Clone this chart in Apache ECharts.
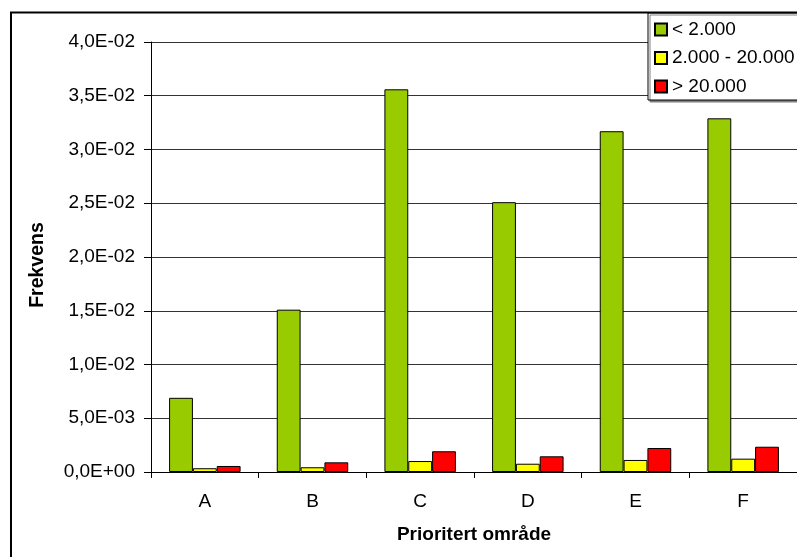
<!DOCTYPE html>
<html>
<head>
<meta charset="utf-8">
<script src="https://cdn.jsdelivr.net/npm/echarts@6/dist/echarts.min.js"></script>
<style>
  html, body { margin: 0; padding: 0; background: #fff; }
  #chart { width: 797px; height: 557px; }
</style>
</head>
<body>
<div id="chart"></div>
<script>
// Frequency per priority area, split by size class
const categories = ['A', 'B', 'C', 'D', 'E', 'F'];
const seriesNames = ['< 2.000', '2.000 - 20.000', '> 20.000'];
const small = [0.0069, 0.0151, 0.0356, 0.0251, 0.0317, 0.0329];
const medium = [0.00035, 0.00044, 0.00102, 0.00077, 0.00112, 0.00124];
const large = [0.00056, 0.0009, 0.00193, 0.00146, 0.00223, 0.00235];
const yTicks = { min: 0, max: 0.04, step: 0.005 };

const FONT = 'Liberation Sans, Arial, sans-serif';

// "4,0E-02" style scientific labels
function sci(v) {
  const s = Number(v).toExponential(1);
  const [mant, exp] = s.split('e');
  const e = parseInt(exp, 10);
  const sign = e < 0 ? '-' : '+';
  const digits = String(Math.abs(e)).padStart(2, '0');
  return mant.replace('.', ',') + 'E' + sign + digits;
}

const chart = echarts.init(document.getElementById('chart'), null, { renderer: 'canvas' });

const barBorder = { borderColor: '#000', borderWidth: 1 };

chart.setOption({
  animation: false,
  backgroundColor: '#fff',
  textStyle: { fontFamily: FONT, color: '#000' },
  grid: { left: 151, right: -4, top: 42, bottom: 85, containLabel: false },
  legend: {
    data: seriesNames,
    orient: 'vertical',
    left: 648,
    top: 13,
    icon: 'rect',
    itemWidth: 12,
    itemHeight: 12,
    itemGap: 9.5,
    padding: [7, 12, 4, 6],
    backgroundColor: '#fff',
    borderColor: '#000',
    borderWidth: 1,
    shadowColor: '#808080',
    shadowBlur: 0,
    shadowOffsetX: 2,
    shadowOffsetY: 2,
    selectedMode: false,
    textStyle: { fontFamily: FONT, fontSize: 19, color: '#000' }
  },
  xAxis: {
    type: 'category',
    data: categories,
    name: 'Prioritert område',
    nameLocation: 'middle',
    nameGap: 53,
    nameTextStyle: { fontFamily: FONT, fontSize: 19, fontWeight: 'bold', color: '#000' },
    axisLine: { lineStyle: { color: '#000', width: 1 } },
    axisTick: { show: true, length: 6, lineStyle: { color: '#000' } },
    axisLabel: { fontFamily: FONT, fontSize: 19, color: '#000', margin: 20 },
    splitLine: { show: false }
  },
  yAxis: {
    type: 'value',
    min: yTicks.min,
    max: yTicks.max,
    interval: yTicks.step,
    name: 'Frekvens',
    nameLocation: 'middle',
    nameGap: 103,
    nameTextStyle: { fontFamily: FONT, fontSize: 19.5, fontWeight: 'bold', color: '#000', padding: [0, 16, 0, 0] },
    axisLine: { show: true, lineStyle: { color: '#000', width: 1 } },
    axisTick: { show: true, length: 7, lineStyle: { color: '#000' } },
    axisLabel: { fontFamily: FONT, fontSize: 19, color: '#000', margin: 16, formatter: sci },
    splitLine: { show: true, lineStyle: { color: '#333', width: 1 } }
  },
  series: [
    { name: seriesNames[0], type: 'bar', data: small, barGap: '0%', barCategoryGap: '33.6%',
      itemStyle: Object.assign({ color: '#99CC00' }, barBorder) },
    { name: seriesNames[1], type: 'bar', data: medium, barGap: '0%', barCategoryGap: '33.6%',
      itemStyle: Object.assign({ color: '#FFFF00' }, barBorder) },
    { name: seriesNames[2], type: 'bar', data: large, barGap: '0%', barCategoryGap: '33.6%',
      itemStyle: Object.assign({ color: '#FF0000' }, barBorder) }
  ],
  graphic: [
    {
      type: 'rect',
      z: 100,
      silent: true,
      shape: { x: 11, y: 12.5, width: 820, height: 580 },
      style: { fill: 'none', stroke: '#000', lineWidth: 2 }
    }
  ]
});
</script>
</body>
</html>
